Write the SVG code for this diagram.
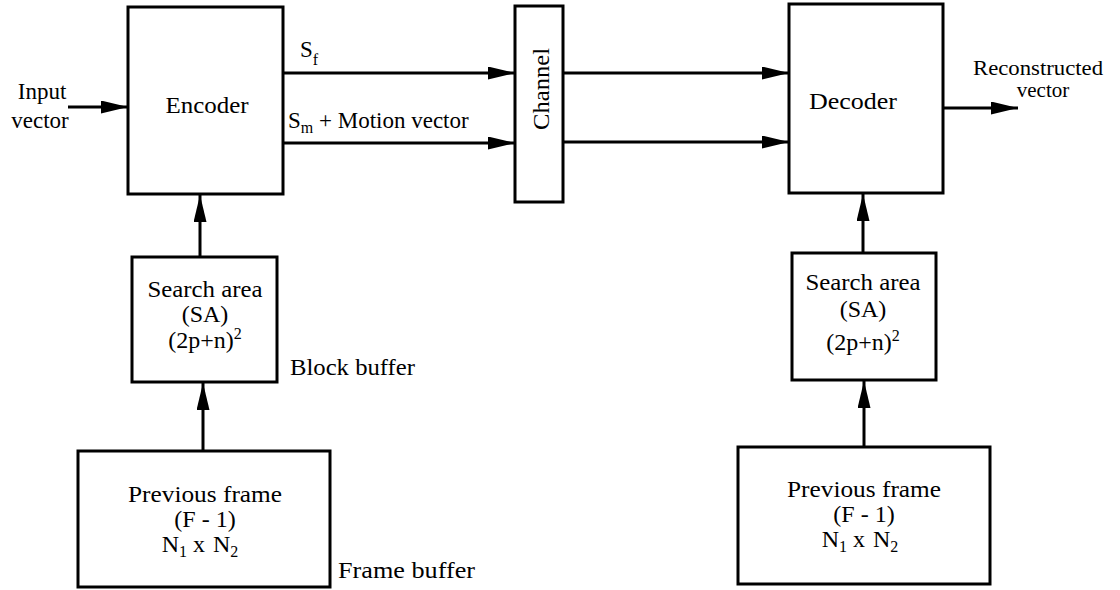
<svg xmlns="http://www.w3.org/2000/svg" width="1120" height="590" viewBox="0 0 1120 590">
<style>
.box{fill:#fff;stroke:#000;stroke-width:3}
.ln{stroke:#000;stroke-width:3;fill:none}
text{font-family:"Liberation Serif","Times New Roman",serif;font-size:23px;fill:#000}
.c{text-anchor:middle}
.b{font-size:24px}
.sub{font-size:16px}
</style>
<defs>
<marker id="ah" markerUnits="userSpaceOnUse" markerWidth="28" markerHeight="14" refX="27" refY="6.5" orient="auto">
<path d="M0,0 L27,6.5 L0,13 z" fill="#000"/>
</marker>
</defs>
<rect width="1120" height="590" fill="#fff"/>
<g id="connectors">
<line class="ln" x1="68" y1="107" x2="128" y2="107" marker-end="url(#ah)"/>
<line class="ln" x1="283" y1="73" x2="515" y2="73" marker-end="url(#ah)"/>
<line class="ln" x1="283" y1="143" x2="515" y2="143" marker-end="url(#ah)"/>
<line class="ln" x1="563" y1="73" x2="789" y2="73" marker-end="url(#ah)"/>
<line class="ln" x1="563" y1="142" x2="789" y2="142" marker-end="url(#ah)"/>
<line class="ln" x1="943" y1="108" x2="1018" y2="108" marker-end="url(#ah)"/>
<line class="ln" x1="200" y1="257" x2="200" y2="195" marker-end="url(#ah)"/>
<line class="ln" x1="203" y1="451" x2="203" y2="383" marker-end="url(#ah)"/>
<line class="ln" x1="863" y1="253" x2="863" y2="194" marker-end="url(#ah)"/>
<line class="ln" x1="864" y1="447" x2="864" y2="381" marker-end="url(#ah)"/>
</g>
<g id="labels">
<text x="42" y="99" class="c">Input</text>
<text x="40" y="128" class="c">vector</text>
<text x="300" y="57">S<tspan class="sub" dy="8">f</tspan></text>
<text x="288" y="128">S<tspan class="sub" dy="5">m</tspan><tspan dy="-5"> + Motion vector</tspan></text>
<text x="973" y="75" style="font-size:21px" textLength="130" lengthAdjust="spacingAndGlyphs">Reconstructed</text>
<text x="1043" y="97" class="c" style="font-size:21px">vector</text>
<text x="290" y="375" textLength="125" lengthAdjust="spacingAndGlyphs">Block buffer</text>
<text x="338" y="578" textLength="137" lengthAdjust="spacingAndGlyphs">Frame buffer</text>
</g>
<g id="encoder">
<rect class="box" x="128" y="7" width="155" height="187"/>
<text x="207" y="113" class="c b" textLength="83" lengthAdjust="spacingAndGlyphs">Encoder</text>
</g>
<g id="channel">
<rect class="box" x="515" y="6" width="48" height="196"/>
<text transform="translate(549,89) rotate(-90)" class="c b" textLength="82" lengthAdjust="spacingAndGlyphs">Channel</text>
</g>
<g id="decoder">
<rect class="box" x="789" y="4" width="154" height="189"/>
<text x="853" y="109" class="c b" textLength="88" lengthAdjust="spacingAndGlyphs">Decoder</text>
</g>
<g id="search-enc">
<rect class="box" x="132" y="257" width="145" height="125"/>
<text x="205" y="297" class="c b" textLength="115" lengthAdjust="spacingAndGlyphs">Search area</text>
<text x="205" y="322" class="c b">(SA)</text>
<text x="205" y="348" class="c b">(2p+n)<tspan class="sub" dy="-9">2</tspan></text>
</g>
<g id="prev-enc">
<rect class="box" x="78" y="451" width="252" height="136"/>
<text x="205" y="502" class="c b" textLength="154" lengthAdjust="spacingAndGlyphs">Previous frame</text>
<text x="205" y="527" class="c b">(F - 1)</text>
<text x="200" y="552" class="c b">N<tspan class="sub" dy="5">1</tspan><tspan dy="-5"> x</tspan><tspan dx="8">N</tspan><tspan class="sub" dy="5">2</tspan></text>
</g>
<g id="search-dec">
<rect class="box" x="792" y="253" width="144" height="127"/>
<text x="863" y="290" class="c b" textLength="115" lengthAdjust="spacingAndGlyphs">Search area</text>
<text x="863" y="317" class="c b">(SA)</text>
<text x="863" y="350" class="c b">(2p+n)<tspan class="sub" dy="-9">2</tspan></text>
</g>
<g id="prev-dec">
<rect class="box" x="738" y="447" width="252" height="137"/>
<text x="864" y="497" class="c b" textLength="154" lengthAdjust="spacingAndGlyphs">Previous frame</text>
<text x="864" y="522" class="c b">(F - 1)</text>
<text x="860" y="547" class="c b">N<tspan class="sub" dy="5">1</tspan><tspan dy="-5"> x</tspan><tspan dx="8">N</tspan><tspan class="sub" dy="5">2</tspan></text>
</g>
</svg>
